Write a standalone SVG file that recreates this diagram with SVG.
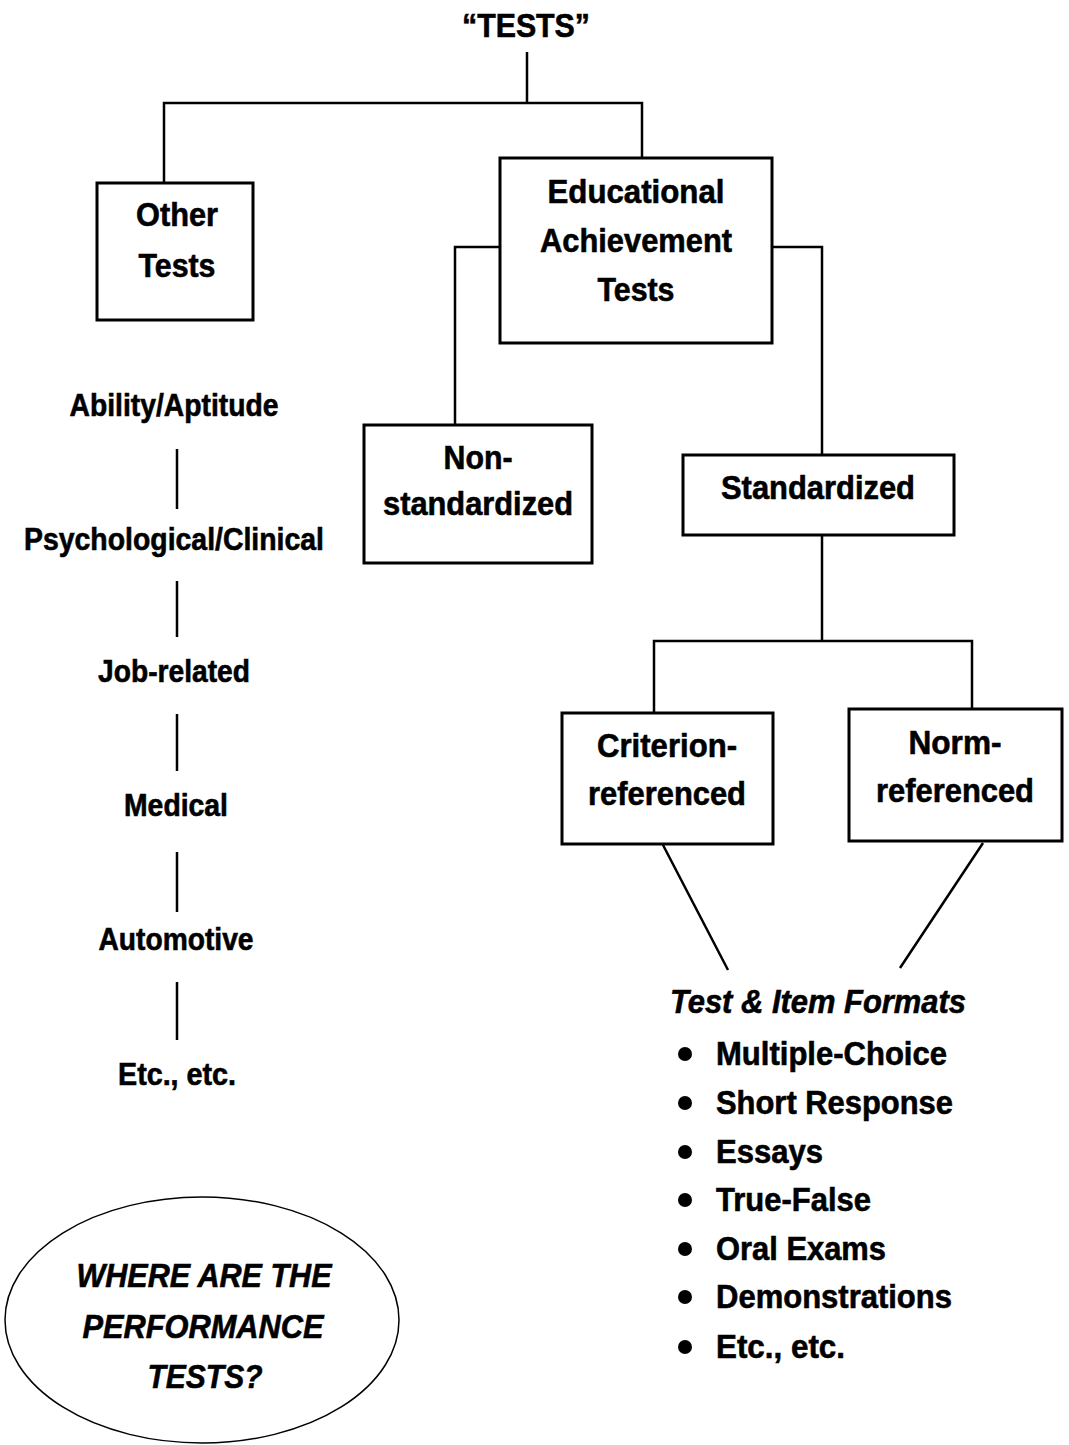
<svg xmlns="http://www.w3.org/2000/svg" width="1069" height="1445" viewBox="0 0 1069 1445">
<style>
text{font-family:"Liberation Sans","Arial",sans-serif;font-weight:bold;fill:#000;stroke:#000;stroke-width:0.6;}
.c{text-anchor:middle;font-size:33px;}
.s{font-size:31px;}
.l{font-size:33px;}
.it{font-style:italic;}
.box{fill:#fff;stroke:#000;stroke-width:3;}
.ln{fill:none;stroke:#000;stroke-width:2.5;}
</style>
<rect width="1069" height="1445" fill="#fff"/>
<g id="connectors">
<path class="ln" d="M527 52V103M164 183V103H642V158"/>
<path class="ln" d="M500 247H455V425"/>
<path class="ln" d="M772 247H822V455"/>
<path class="ln" d="M822 535V641M654 713V641H972V709"/>
<path class="ln" d="M663 845L728 970M983 843L900 968"/>
<path class="ln" d="M177 449V509M177 581V637M177 714V771M177 852V912M177 982V1040"/>
</g>
<g id="title"><text class="c" x="526" y="37" font-size="34" textLength="128" lengthAdjust="spacingAndGlyphs">“TESTS”</text></g>
<g id="other-tests">
<rect class="box" x="97" y="183" width="156" height="137"/>
<text class="c" x="177" y="226" textLength="82" lengthAdjust="spacingAndGlyphs">Other</text>
<text class="c" x="177" y="277" textLength="77" lengthAdjust="spacingAndGlyphs">Tests</text>
</g>
<g id="educational">
<rect class="box" x="500" y="158" width="272" height="185"/>
<text class="c" x="636" y="203" font-size="34" textLength="177" lengthAdjust="spacingAndGlyphs">Educational</text>
<text class="c" x="636" y="252" font-size="34" textLength="192" lengthAdjust="spacingAndGlyphs">Achievement</text>
<text class="c" x="636" y="301" font-size="34" textLength="77" lengthAdjust="spacingAndGlyphs">Tests</text>
</g>
<g id="nonstandardized">
<rect class="box" x="364" y="425" width="228" height="138"/>
<text class="c" x="478" y="469" textLength="69" lengthAdjust="spacingAndGlyphs">Non-</text>
<text class="c" x="478" y="515" textLength="190" lengthAdjust="spacingAndGlyphs">standardized</text>
</g>
<g id="standardized">
<rect class="box" x="683" y="455" width="271" height="80"/>
<text class="c" x="818" y="499" textLength="194" lengthAdjust="spacingAndGlyphs">Standardized</text>
</g>
<g id="criterion">
<rect class="box" x="562" y="713" width="211" height="131"/>
<text class="c" x="667" y="757" textLength="140" lengthAdjust="spacingAndGlyphs">Criterion-</text>
<text class="c" x="667" y="805" textLength="158" lengthAdjust="spacingAndGlyphs">referenced</text>
</g>
<g id="norm">
<rect class="box" x="849" y="709" width="213" height="132"/>
<text class="c" x="955" y="754" textLength="93" lengthAdjust="spacingAndGlyphs">Norm-</text>
<text class="c" x="955" y="802" textLength="158" lengthAdjust="spacingAndGlyphs">referenced</text>
</g>
<g id="other-list">
<text class="c s" x="174" y="416" textLength="209" lengthAdjust="spacingAndGlyphs">Ability/Aptitude</text>
<text class="c s" x="174" y="550" textLength="300" lengthAdjust="spacingAndGlyphs">Psychological/Clinical</text>
<text class="c s" x="174" y="682" textLength="152" lengthAdjust="spacingAndGlyphs">Job-related</text>
<text class="c s" x="176" y="816" textLength="104" lengthAdjust="spacingAndGlyphs">Medical</text>
<text class="c s" x="176" y="950" textLength="155" lengthAdjust="spacingAndGlyphs">Automotive</text>
<text class="c s" x="177" y="1085" textLength="118" lengthAdjust="spacingAndGlyphs">Etc., etc.</text>
</g>
<g id="formats">
<text class="l it" x="670" y="1013" textLength="296" lengthAdjust="spacingAndGlyphs">Test &amp; Item Formats</text>
<g fill="#000">
<circle cx="685" cy="1054" r="7"/>
<circle cx="685" cy="1103" r="7"/>
<circle cx="685" cy="1152" r="7"/>
<circle cx="685" cy="1200" r="7"/>
<circle cx="685" cy="1249" r="7"/>
<circle cx="685" cy="1297" r="7"/>
<circle cx="685" cy="1347" r="7"/>
</g>
<text class="l" x="716" y="1065" textLength="231" lengthAdjust="spacingAndGlyphs">Multiple-Choice</text>
<text class="l" x="716" y="1114" textLength="237" lengthAdjust="spacingAndGlyphs">Short Response</text>
<text class="l" x="716" y="1163" textLength="107" lengthAdjust="spacingAndGlyphs">Essays</text>
<text class="l" x="716" y="1211" textLength="155" lengthAdjust="spacingAndGlyphs">True-False</text>
<text class="l" x="716" y="1260" textLength="170" lengthAdjust="spacingAndGlyphs">Oral Exams</text>
<text class="l" x="716" y="1308" textLength="236" lengthAdjust="spacingAndGlyphs">Demonstrations</text>
<text class="l" x="716" y="1358" textLength="129" lengthAdjust="spacingAndGlyphs">Etc., etc.</text>
</g>
<g id="question">
<ellipse cx="202" cy="1320" rx="197" ry="123" fill="#fff" stroke="#000" stroke-width="1.5"/>
<text class="c it" x="204" y="1287" textLength="255" lengthAdjust="spacingAndGlyphs">WHERE ARE THE</text>
<text class="c it" x="203" y="1338" textLength="241" lengthAdjust="spacingAndGlyphs">PERFORMANCE</text>
<text class="c it" x="205" y="1388" textLength="115" lengthAdjust="spacingAndGlyphs">TESTS?</text>
</g>
</svg>
